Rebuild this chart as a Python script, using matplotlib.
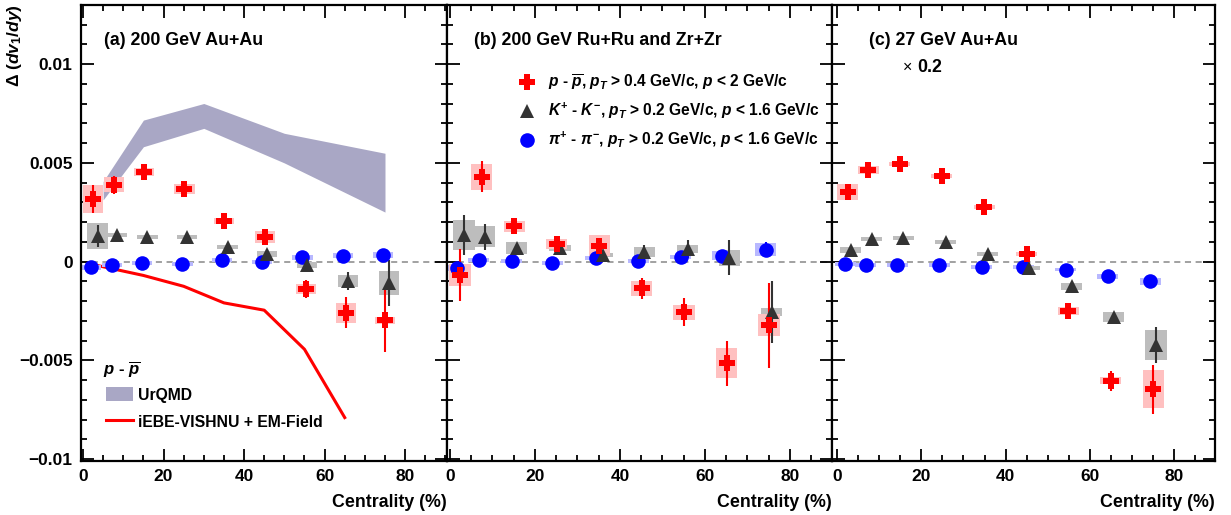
import numpy as np
import matplotlib as mpl
mpl.use("Agg")
import matplotlib.pyplot as plt
from matplotlib.patches import Patch
from matplotlib.lines import Line2D
from matplotlib.ticker import MultipleLocator, FuncFormatter

plt.rcParams["font.family"] = ["Liberation Sans", "DejaVu Sans"]
plt.rcParams["font.weight"] = "bold"
plt.rcParams["mathtext.fontset"] = "custom"
plt.rcParams["mathtext.it"] = "Liberation Sans:italic:bold"
plt.rcParams["mathtext.rm"] = "Liberation Sans:bold"
plt.rcParams["mathtext.bf"] = "Liberation Sans:bold"

# ---- (a) 200 GeV Au+Au ----
pbar_a_x = [2.5, 7.7, 15.2, 25.2, 35.1, 45.2, 55.3, 65.3, 75.0]
pbar_a_y = [0.00317, 0.00389, 0.00453, 0.0037, 0.00207, 0.00125, -0.00138, -0.00259, -0.00298]
pbar_a_stat = [0.0007, 0.00045, 0.0002, 0.00015, 0.00015, 0.0003, 0.00046, 0.00078, 0.0016]
pbar_a_sys = [0.0007, 0.00038, 0.0002, 0.00025, 0.00015, 0.0003, 0.00025, 0.0005, 0.0002]

k_a_x = [3.6, 8.5, 16.0, 25.9, 35.9, 45.8, 55.7, 65.9, 75.9]
k_a_y = [0.00128, 0.00136, 0.00125, 0.00125, 0.00074, 0.0004, -0.00015, -0.001, -0.00108]
k_a_stat = [0.00055, 0.0002, 0.00015, 0.00015, 0.0002, 0.00025, 0.00025, 0.00045, 0.00117]
k_a_sys = [0.00066, 0.0001, 0.0001, 0.0001, 0.0001, 0.00015, 0.00015, 0.0003, 0.00063]

pi_a_x = [1.9, 7.1, 14.6, 24.7, 34.6, 44.5, 54.5, 64.5, 74.5]
pi_a_y = [-0.00029, -0.00015, -0.00007, -0.00012, 0.0001, -0.00003, 0.00022, 0.0003, 0.00035]
pi_a_stat = [0.0001] * 9
pi_a_sys = [0.00012, 0.0001, 0.0001, 0.0001, 0.0001, 0.0001, 0.00012, 0.00012, 0.00015]

urqmd_x = [5, 15, 30, 50, 75]
urqmd_lo = [0.00313, 0.00582, 0.00675, 0.0050, 0.00251]
urqmd_hi = [0.00406, 0.00717, 0.00801, 0.0065, 0.00549]

iebe_x = [2.5, 15, 25, 35, 45, 55, 65]
iebe_y = [-0.00015, -0.0007, -0.00125, -0.00209, -0.00246, -0.00444, -0.0079]

# ---- (b) 200 GeV Ru+Ru and Zr+Zr ----
pbar_b_x = [2.35, 7.45, 15.1, 25.1, 35.1, 45.1, 55.1, 65.1, 75.1]
pbar_b_y = [-0.00068, 0.00431, 0.00178, 0.00089, 0.00081, -0.00136, -0.00256, -0.00515, -0.00322]
pbar_b_stat = [0.0013, 0.00078, 0.0004, 0.0003, 0.0004, 0.00053, 0.0007, 0.00115, 0.00216]
pbar_b_sys = [0.00055, 0.00066, 0.0003, 0.00025, 0.00053, 0.0004, 0.00038, 0.00076, 0.00055]

k_b_x = [3.3, 8.2, 15.7, 25.9, 35.9, 45.7, 55.9, 65.7, 75.7]
k_b_y = [0.00136, 0.00125, 0.00069, 0.00069, 0.00035, 0.00049, 0.00064, 0.00019, -0.00254]
k_b_stat = [0.001, 0.00064, 0.0002, 0.0002, 0.0002, 0.00035, 0.00045, 0.00089, 0.00158]
k_b_sys = [0.00076, 0.00053, 0.00029, 0.00015, 0.0001, 0.00025, 0.0002, 0.0004, 0.0002]

pi_b_x = [1.6, 6.8, 14.5, 24.1, 34.3, 44.3, 54.3, 64.1, 74.3]
pi_b_y = [-0.00032, 0.0001, 0.00002, -0.00007, 0.00019, 0.00002, 0.00024, 0.0003, 0.00061]
pi_b_stat = [0.0001, 0.0001, 0.0001, 0.0001, 0.0001, 0.0001, 0.0001, 0.00015, 0.0004]
pi_b_sys = [0.00015, 0.0001, 0.0001, 0.0001, 0.0001, 0.0001, 0.00012, 0.00023, 0.00035]

# ---- (c) 27 GeV Au+Au (x 0.2) ----
pbar_c_x = [2.5, 7.4, 14.9, 24.8, 34.9, 45.0, 54.9, 64.9, 75.0]
pbar_c_y = [0.00352, 0.00465, 0.00495, 0.00436, 0.00279, 0.00039, -0.00251, -0.00604, -0.00646]
pbar_c_stat = [0.0002, 0.0002, 0.0002, 0.0002, 0.0002, 0.0002, 0.0002, 0.0005, 0.00124]
pbar_c_sys = [0.0004, 0.0002, 0.0001, 0.0001, 0.0001, 0.0001, 0.0002, 0.00018, 0.00096]

k_c_x = [3.3, 8.2, 15.7, 25.8, 35.8, 45.6, 55.7, 65.7, 75.7]
k_c_y = [0.00061, 0.00115, 0.0012, 0.001, 0.0004, -0.0003, -0.00125, -0.00279, -0.00424]
k_c_stat = [0.0001, 0.0001, 0.0001, 0.0001, 0.0001, 0.0001, 0.0001, 0.0002, 0.00091]
k_c_sys = [0.00015, 0.0001, 0.0001, 0.0001, 0.0001, 0.0001, 0.00019, 0.00025, 0.00076]

pi_c_x = [1.9, 6.8, 14.3, 24.3, 34.3, 44.2, 54.3, 64.2, 74.3]
pi_c_y = [-0.0001, -0.00019, -0.00019, -0.00015, -0.00027, -0.00027, -0.0004, -0.00074, -0.001]
pi_c_stat = [0.0001] * 9
pi_c_sys = [0.0001, 0.0001, 0.0001, 0.0001, 0.0001, 0.0001, 0.0001, 0.00012, 0.00018]

RED, DARK, BLUE = "#ff0000", "#333333", "#0000ff"
RED_BOX, DARK_BOX, BLUE_BOX = "#ffc0c0", "#bdbdbd", "#b8b8ff"
BOX_W = 5.0


def draw_series(ax, x, y, stat, sys, color, box_color, marker, ms):
    x = np.array(x)
    y = np.array(y)
    sys = np.array(sys)
    ax.bar(x, 2 * sys, bottom=y - sys, width=BOX_W, color=box_color,
           edgecolor="none", zorder=2)
    ax.errorbar(x, y, yerr=stat, fmt="none", ecolor=color, elinewidth=1.5,
                capsize=0, zorder=3)
    ax.plot(x, y, ls="none", marker=marker, color=color, ms=ms,
            markeredgewidth=0, zorder=4)


def style_axis(ax, xlim, show_ylabels):
    ax.set_xlim(*xlim)
    ax.set_ylim(-0.0101, 0.013)
    ax.xaxis.set_major_locator(MultipleLocator(20))
    ax.xaxis.set_minor_locator(MultipleLocator(5))
    ax.yaxis.set_major_locator(MultipleLocator(0.005))
    ax.yaxis.set_minor_locator(MultipleLocator(0.001))
    ax.tick_params(which="both", direction="in", top=True, right=True, width=1.3)
    ax.tick_params(which="major", length=9, labelsize=12.5, pad=6)
    ax.tick_params(which="minor", length=4.5)
    ax.tick_params(axis="x", pad=6)
    for s in ax.spines.values():
        s.set_linewidth(1.6)
    ax.yaxis.set_major_formatter(FuncFormatter(
        lambda v, p: "0" if abs(v) < 1e-9 else f"{v:g}".replace("-", "\u2212")))
    if not show_ylabels:
        ax.tick_params(axis="y", labelleft=False)
    for lab in ax.get_xticklabels() + ax.get_yticklabels():
        lab.set_fontweight("bold")
    ax.axhline(0, color="#888888", ls=(0, (4, 3)), lw=1.1, zorder=1)
    ax.set_xlabel("Centrality (%)", loc="right", fontsize=12.8, fontweight="bold",
                  labelpad=7)


W, H = 1231, 515
fig = plt.figure(figsize=(W / 100, H / 100), dpi=100)
bot, hgt = 54 / H, 456 / H
ax_a = fig.add_axes([81 / W, bot, 366 / W, hgt])
ax_b = fig.add_axes([447 / W, bot, 385 / W, hgt])
ax_c = fig.add_axes([832 / W, bot, 383 / W, hgt])

# panel a
ax_a.fill_between(urqmd_x, urqmd_lo, urqmd_hi, color="#a9a7c5", lw=0, zorder=1.5)
ax_a.plot(iebe_x, iebe_y, color=RED, lw=2.2, zorder=1.6)
draw_series(ax_a, pi_a_x, pi_a_y, pi_a_stat, pi_a_sys, BLUE, BLUE_BOX, "o", 10.5)
draw_series(ax_a, k_a_x, k_a_y, k_a_stat, k_a_sys, DARK, DARK_BOX, "^", 10)
draw_series(ax_a, pbar_a_x, pbar_a_y, pbar_a_stat, pbar_a_sys, RED, RED_BOX, "P", 11)
style_axis(ax_a, (-0.5, 90.4), True)

# panel b
draw_series(ax_b, pi_b_x, pi_b_y, pi_b_stat, pi_b_sys, BLUE, BLUE_BOX, "o", 10.5)
draw_series(ax_b, k_b_x, k_b_y, k_b_stat, k_b_sys, DARK, DARK_BOX, "^", 10)
draw_series(ax_b, pbar_b_x, pbar_b_y, pbar_b_stat, pbar_b_sys, RED, RED_BOX, "P", 11)
style_axis(ax_b, (-0.7, 89.9), False)

# panel c
draw_series(ax_c, pi_c_x, pi_c_y, pi_c_stat, pi_c_sys, BLUE, BLUE_BOX, "o", 10.5)
draw_series(ax_c, k_c_x, k_c_y, k_c_stat, k_c_sys, DARK, DARK_BOX, "^", 10)
draw_series(ax_c, pbar_c_x, pbar_c_y, pbar_c_stat, pbar_c_sys, RED, RED_BOX, "P", 11)
style_axis(ax_c, (-1.2, 89.7), False)

# panel labels
ax_a.text(0.063, 0.923, "(a) 200 GeV Au+Au", transform=ax_a.transAxes,
          fontsize=12.8, fontweight="bold", va="center")
ax_b.text(0.070, 0.923, "(b) 200 GeV Ru+Ru and Zr+Zr", transform=ax_b.transAxes,
          fontsize=12.8, fontweight="bold", va="center")
ax_c.text(0.097, 0.923, "(c) 27 GeV Au+Au", transform=ax_c.transAxes,
          fontsize=12.8, fontweight="bold", va="center")
ax_c.text(0.185, 0.864, "\u00d7", transform=ax_c.transAxes, fontsize=11.5,
          fontweight="normal", va="center")
ax_c.text(0.222, 0.864, "0.2", transform=ax_c.transAxes, fontsize=12.8,
          fontweight="bold", va="center")

# y label
fig.text(15 / W, 1 - 4 / H, r"$\Delta$ $(dv_1/dy)$", rotation=90, ha="center",
         va="top", fontsize=12.5)

# legend panel b
h_b = [Line2D([], [], ls="none", marker="P", color=RED, ms=11, mew=0),
       Line2D([], [], ls="none", marker="^", color=DARK, ms=10, mew=0),
       Line2D([], [], ls="none", marker="o", color=BLUE, ms=10.5, mew=0)]
l_b = [r"$p$ - $\overline{p}$, $p_T$ > 0.4 GeV/c, $p$ < 2 GeV/c",
       r"$K^{+}$ - $K^{-}$, $p_T$ > 0.2 GeV/c, $p$ < 1.6 GeV/c",
       r"$\pi^{+}$ - $\pi^{-}$, $p_T$ > 0.2 GeV/c, $p$ < 1.6 GeV/c"]
ax_b.legend(h_b, l_b, loc="upper left", bbox_to_anchor=(0.19, 0.852),
            frameon=False, fontsize=11.2, borderpad=0, handlelength=0.92,
            handletextpad=0.88, labelspacing=0.55, borderaxespad=0)

# legend panel a
ax_a.text(0.060, 0.1996, r"$p$ - $\overline{p}$", transform=ax_a.transAxes,
          fontsize=12, va="center")
h_a = [Patch(facecolor="#a9a7c5", edgecolor="none"),
       Line2D([], [], color=RED, lw=2.2)]
ax_a.legend(h_a, ["UrQMD", "iEBE-VISHNU + EM-Field"], loc="upper left",
            bbox_to_anchor=(0.068, 0.162), frameon=False, fontsize=11.3,
            borderpad=0, handlelength=1.7, handleheight=1.0,
            handletextpad=0.35, labelspacing=0.75, borderaxespad=0)

fig.savefig("out.png", dpi=100)
